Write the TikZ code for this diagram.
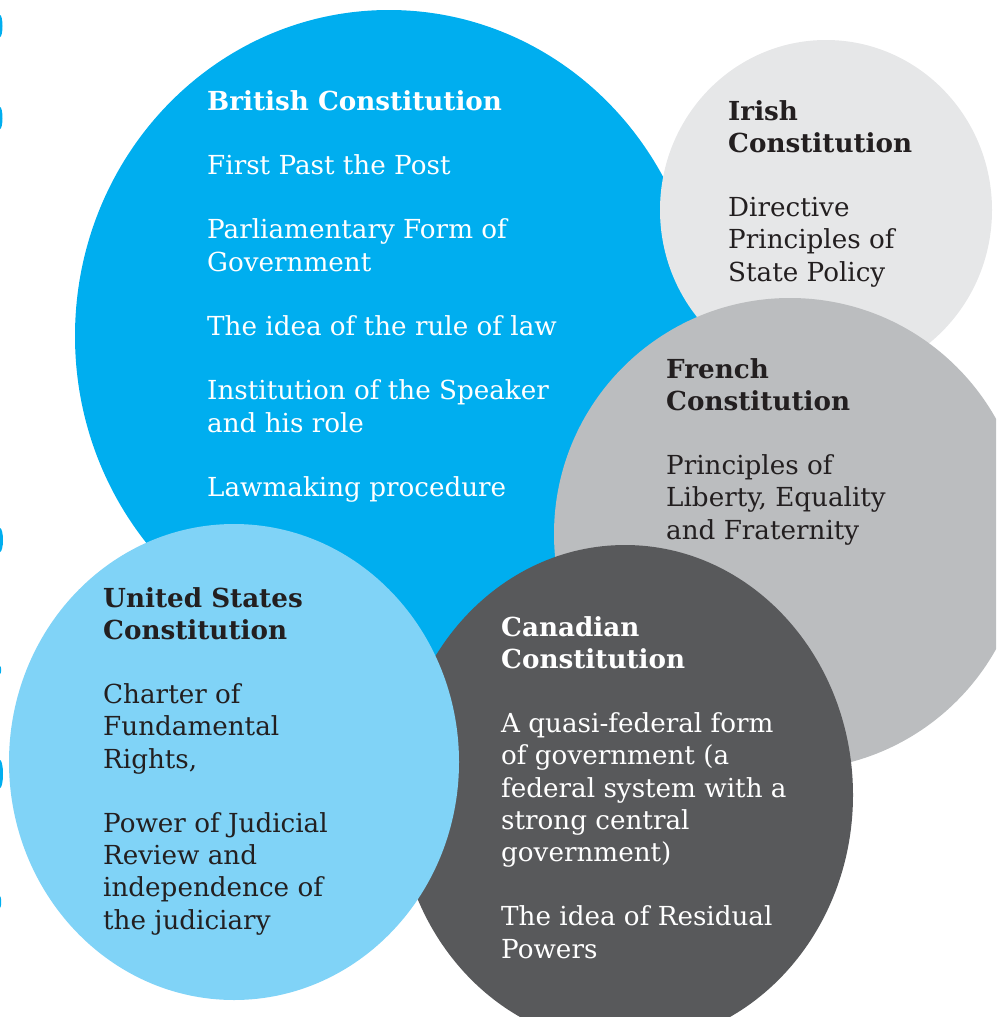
\documentclass[tikz,border=0pt]{standalone}
\usepackage{fontspec}
\setmainfont{DejaVu Serif}
\definecolor{cBrit}{HTML}{00AEEF}
\definecolor{cUS}{HTML}{80D3F7}
\definecolor{cIrish}{HTML}{E6E7E8}
\definecolor{cFrench}{HTML}{BBBDBF}
\definecolor{cCanada}{HTML}{58595B}
\definecolor{ink}{HTML}{231F20}
\begin{document}
\begin{tikzpicture}[x=1pt,y=-1pt,
  txt/.style={anchor=north west, inner sep=0pt, align=left,
    font=\fontsize{26.2}{32.2}\selectfont},
  blob/.style={fill=cBrit}]
\useasboundingbox (0,0) rectangle (996,1017);
\clip (0,0) rectangle (996,1017);
% circles
\fill[cBrit] (389,336) ellipse [x radius=314pt, y radius=326pt];
\fill[cIrish] (826,210) ellipse [x radius=166pt, y radius=170pt];
\fill[cFrench] (790,534) circle [radius=236pt];
\fill[cCanada] (625,795) ellipse [x radius=228pt, y radius=250pt];
\fill[cUS] (234,762) ellipse [x radius=225pt, y radius=238pt];
% edge slivers
\fill[blob] (0,26) ellipse [x radius=2.5pt, y radius=11pt];
\fill[blob] (0,118) ellipse [x radius=2.5pt, y radius=11pt];
\fill[blob] (0,540) ellipse [x radius=3pt, y radius=12pt];
\fill[blob] (0,670) ellipse [x radius=1.2pt, y radius=4pt];
\fill[blob] (0,774) ellipse [x radius=3pt, y radius=14pt];
\fill[blob] (0,902) ellipse [x radius=1.2pt, y radius=6pt];
% texts
\node[txt, text=white] (britT) at (207,90)
 {\textbf{British Constitution}\\[32.2pt]
  First Past the Post\\[32.2pt]
  Parliamentary Form of\\ Government\\[32.2pt]
  The idea of the rule of law\\[32.2pt]
  Institution of the Speaker\\ and his role\\[32.2pt]
  Lawmaking procedure};
\node[txt, text=ink] (irishT) at (728,100)
 {\textbf{Irish}\\ \textbf{Constitution}\\[32.2pt]
  Directive\\ Principles of\\ State Policy};
\node[txt, text=ink] (frenchT) at (666,358)
 {\textbf{French}\\ \textbf{Constitution}\\[32.2pt]
  Principles of\\ Liberty, Equality\\ and Fraternity};
\node[txt, text=ink] (usT) at (103,587)
 {\textbf{United States}\\ \textbf{Constitution}\\[32.2pt]
  Charter of\\ Fundamental\\ Rights,\\[32.2pt]
  Power of Judicial\\ Review and\\ independence of\\ the judiciary};
\node[txt, text=white] (canT) at (501,616)
 {\textbf{Canadian}\\ \textbf{Constitution}\\[32.2pt]
  A quasi-federal form\\ of government (a\\ federal system with a\\ strong central\\ government)\\[32.2pt]
  The idea of Residual\\ Powers};
\end{tikzpicture}
\end{document}
